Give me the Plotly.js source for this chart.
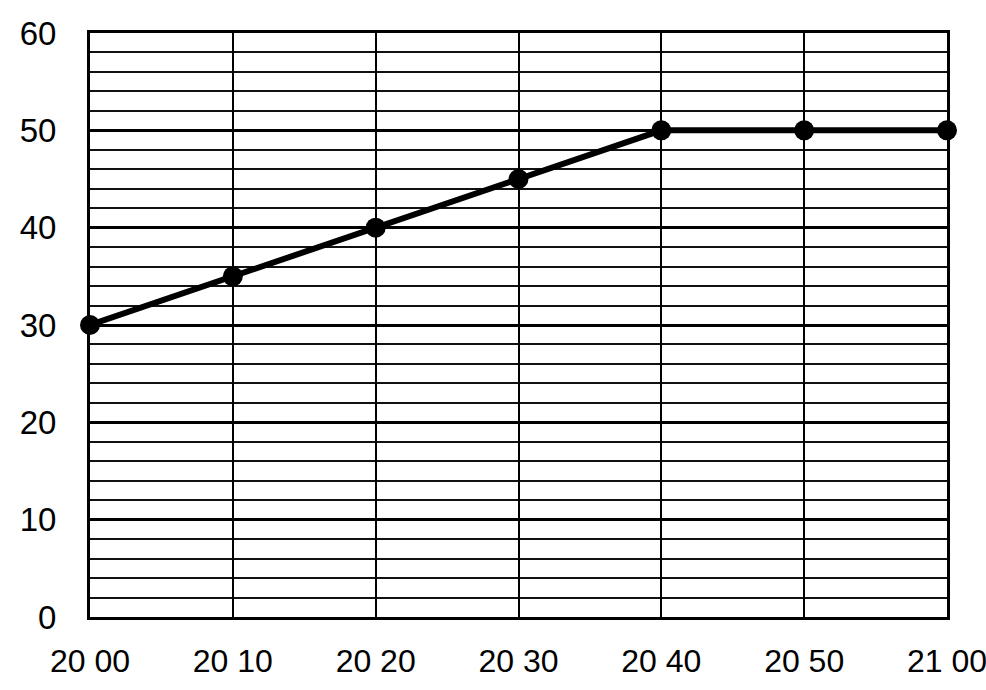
<!DOCTYPE html>
<html>
<head>
<meta charset="utf-8">
<script src="https://cdn.plot.ly/plotly-3.0.1.min.js"></script>
<style>html,body{margin:0;padding:0;background:#fff;}#chart{width:986px;height:690px;}</style>
</head>
<body>
<div id="chart"></div>
<script>
var categories = ["20 00", "20 10", "20 20", "20 30", "20 40", "20 50", "21 00"];
var values = [30, 35, 40, 45, 50, 50, 50];
var yTicks = [0, 10, 20, 30, 40, 50, 60];

var trace = {
  x: categories,
  y: values,
  type: 'scatter',
  mode: 'lines+markers',
  line: {color: '#000', width: 6},
  marker: {color: '#000', size: 20},
  cliponaxis: false,
  hoverinfo: 'skip'
};

var layout = {
  width: 986,
  height: 690,
  margin: {l: 90, r: 39, t: 33, b: 73},
  paper_bgcolor: '#fff',
  plot_bgcolor: '#fff',
  showlegend: false,
  font: {family: 'Liberation Sans, Arial, sans-serif', color: '#000'},
  xaxis: {
    type: 'category',
    range: [0, 6],
    showgrid: true,
    gridcolor: '#000',
    gridwidth: 2,
    showline: true,
    linecolor: '#000',
    linewidth: 3,
    mirror: true,
    ticks: '',
    ticklabelstandoff: 14,
    tickfont: {size: 32, color: '#000'},
    zeroline: false,
    fixedrange: true
  },
  yaxis: {
    range: [0, 60],
    tickvals: yTicks,
    ticktext: yTicks.map(String),
    showgrid: true,
    gridcolor: '#000',
    gridwidth: 3,
    minor: {dtick: 2, showgrid: true, gridcolor: '#111', gridwidth: 2, ticks: ''},
    showline: true,
    linecolor: '#000',
    linewidth: 3,
    mirror: true,
    ticks: '',
    ticklabelstandoff: 24,
    tickfont: {size: 33, color: '#000'},
    zeroline: false,
    fixedrange: true
  }
};

Plotly.newPlot('chart', [trace], layout, {displayModeBar: false, staticPlot: true});
</script>
</body>
</html>
